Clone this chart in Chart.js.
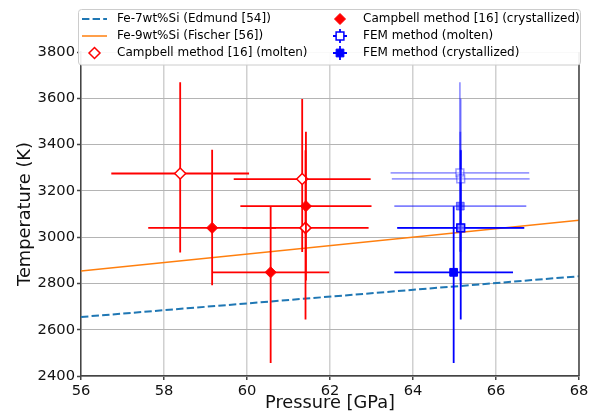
<!DOCTYPE html>
<html>
<head>
<meta charset="utf-8">
<script src="https://cdn.jsdelivr.net/npm/chart.js@4.4.0/dist/chart.umd.min.js"></script>
<style>
  html, body { margin: 0; padding: 0; background: #fff; }
  #wrap { width: 598px; height: 414px; }
</style>
</head>
<body>
<div id="wrap"><canvas id="meltChart" width="598" height="414"></canvas></div>
<script>
// Fe-Si melting temperature vs pressure

// --- reference melting curves ---
const curveP = [56, 68];
const edmundT = [2655, 2831];
const fischerT = [2854, 3073];

// --- Campbell method [16] ---
const campMoltenP = [58.39, 61.33, 61.41];
const campMoltenT = [3275, 3251, 3040];
const campMoltenErrP = [1.66, 1.65, 1.52];
const campMoltenErrUp = [394, 346, 336];
const campMoltenErrDown = [341, 315, 396];

const campCrystP = [59.16, 60.57, 61.42];
const campCrystT = [3040, 2848, 3134];
const campCrystErrP = [1.54, 1.41, 1.58];
const campCrystErrUp = [338, 286, 321];
const campCrystErrDown = [248, 392, 321];

// --- FEM method ---
const femMoltenP = [65.13, 65.15, 65.15];
const femMoltenT = [3278, 3252, 3040];
const femMoltenErrP = [1.67, 1.66, 1.53];
const femMoltenErrUp = [391, 346, 336];
const femMoltenErrDown = [341, 315, 396];

const femCrystP = [65.15, 64.98, 65.14];
const femCrystT = [3040, 2848, 3134];
const femCrystErrP = [1.53, 1.43, 1.59];
const femCrystErrUp = [338, 286, 321];
const femCrystErrDown = [248, 392, 321];

// per point opacity of the FEM markers
const femMoltenAlpha = [0.4, 0.4, 1];
const femCrystAlpha = [0.4, 1, 0.5];

// axis ticks
const pressureTicks = [56, 58, 60, 62, 64, 66, 68];
const tempTicks = [2400, 2600, 2800, 3000, 3200, 3400, 3600, 3800];

const FONT = 'DejaVu Sans';
const RED = '#ff0000';
const blue = a => 'rgba(0,0,255,' + a + ')';
const white = a => 'rgba(255,255,255,' + a + ')';

function pts(xs, ys) {
    return xs.map((x, i) => ({ x: x, y: ys[i] }));
}

// draws the error bars of a dataset just before its markers
const errorBarPlugin = {
    id: 'errorBars',
    beforeDatasetDraw(chart, args) {
        const ds = chart.data.datasets[args.index];
        if (!ds.errP) return;
        const xs = chart.scales.x, ys = chart.scales.y;
        const ctx = chart.ctx;
        ctx.save();
        ctx.lineWidth = 1.8;
        ds.data.forEach((p, i) => {
            const cx = xs.getPixelForValue(p.x);
            const cy = ys.getPixelForValue(p.y);
            ctx.strokeStyle = Array.isArray(ds.barColor) ? ds.barColor[i] : ds.barColor;
            ctx.beginPath();
            ctx.moveTo(xs.getPixelForValue(p.x - ds.errP[i]), cy);
            ctx.lineTo(xs.getPixelForValue(p.x + ds.errP[i]), cy);
            ctx.moveTo(cx, ys.getPixelForValue(p.y + ds.errUp[i]));
            ctx.lineTo(cx, ys.getPixelForValue(p.y - ds.errDown[i]));
            ctx.stroke();
        });
        ctx.restore();
    }
};

// matplotlib-like legend box laid over the top of the plot, plus right spine
const boxLegendPlugin = {
    id: 'boxLegend',
    afterDraw(chart) {
        const ctx = chart.ctx;
        const a = chart.chartArea;
        const dsets = chart.data.datasets;

        ctx.save();
        ctx.strokeStyle = '#444';
        ctx.lineWidth = 1.5;
        ctx.beginPath();
        ctx.moveTo(a.right, a.top);
        ctx.lineTo(a.right, a.bottom);
        ctx.stroke();

        ctx.fillStyle = 'rgba(255,255,255,0.92)';
        ctx.strokeStyle = '#cccccc';
        ctx.lineWidth = 1;
        ctx.beginPath();
        ctx.roundRect(78.5, 9.5, 502, 55.5, 3);
        ctx.fill();
        ctx.stroke();

        const rows = [19, 36, 53];
        const cols = [{ h0: 82, h1: 107, tx: 117 }, { h0: 328, h1: 352, tx: 363 }];
        const slots = [[0, 0], [0, 1], [0, 2], [1, 0], [1, 1], [1, 2]];

        ctx.font = '12px "' + FONT + '"';
        ctx.textBaseline = 'middle';
        dsets.forEach((ds, k) => {
            const col = cols[slots[k][0]];
            const y = rows[slots[k][1]];
            const mx = (col.h0 + col.h1) / 2;
            if (ds.showLine) {
                ctx.strokeStyle = ds.borderColor;
                ctx.lineWidth = ds.borderWidth;
                ctx.setLineDash(ds.borderDash || []);
                ctx.beginPath();
                ctx.moveTo(col.h0, y);
                ctx.lineTo(col.h1, y);
                ctx.stroke();
                ctx.setLineDash([]);
            } else {
                if (ds.pointStyle === 'rect') {
                    ctx.strokeStyle = blue(1);
                    ctx.lineWidth = 1.8;
                    ctx.beginPath();
                    ctx.moveTo(mx - 7, y); ctx.lineTo(mx + 7, y);
                    ctx.moveTo(mx, y - 7); ctx.lineTo(mx, y + 7);
                    ctx.stroke();
                }
                ctx.fillStyle = ds.legendFill;
                ctx.strokeStyle = ds.legendEdge;
                ctx.lineWidth = ds.pointBorderWidth;
                Chart.helpers.drawPoint(ctx, {
                    pointStyle: ds.pointStyle, radius: ds.pointRadius,
                    rotation: 0, borderWidth: ds.pointBorderWidth
                }, mx, y);
            }
            ctx.fillStyle = '#000';
            ctx.fillText(ds.label, col.tx, y);
        });
        ctx.restore();
    }
};

const ctx = document.getElementById('meltChart');
new Chart(ctx, {
    type: 'scatter',
    data: {
        datasets: [
            {
                label: 'Fe-7wt%Si (Edmund [54])',
                data: pts(curveP, edmundT),
                showLine: true,
                borderColor: '#1f77b4',
                borderWidth: 2,
                borderDash: [7.4, 3.2],
                pointRadius: 0,
                order: 6
            },
            {
                label: 'Fe-9wt%Si (Fischer [56])',
                data: pts(curveP, fischerT),
                showLine: true,
                borderColor: '#ff7f0e',
                borderWidth: 1.5,
                pointRadius: 0,
                order: 5
            },
            {
                label: 'Campbell method [16] (molten)',
                data: pts(campMoltenP, campMoltenT),
                errP: campMoltenErrP, errUp: campMoltenErrUp, errDown: campMoltenErrDown,
                barColor: RED,
                pointStyle: 'rectRot',
                pointRadius: 5.5,
                pointBorderWidth: 1.5,
                pointBackgroundColor: '#ffffff',
                pointBorderColor: RED,
                legendFill: '#ffffff', legendEdge: RED,
                order: 4
            },
            {
                label: 'Campbell method [16] (crystallized)',
                data: pts(campCrystP, campCrystT),
                errP: campCrystErrP, errUp: campCrystErrUp, errDown: campCrystErrDown,
                barColor: RED,
                pointStyle: 'rectRot',
                pointRadius: 5.5,
                pointBorderWidth: 1,
                pointBackgroundColor: RED,
                pointBorderColor: RED,
                legendFill: RED, legendEdge: RED,
                order: 3
            },
            {
                label: 'FEM method (molten)',
                data: pts(femMoltenP, femMoltenT),
                errP: femMoltenErrP, errUp: femMoltenErrUp, errDown: femMoltenErrDown,
                barColor: femMoltenAlpha.map(blue),
                pointStyle: 'rect',
                pointRadius: 5.5,
                pointBorderWidth: 1.5,
                pointBackgroundColor: femMoltenAlpha.map(white),
                pointBorderColor: femMoltenAlpha.map(blue),
                legendFill: '#ffffff', legendEdge: blue(1),
                order: 2
            },
            {
                label: 'FEM method (crystallized)',
                data: pts(femCrystP, femCrystT),
                errP: femCrystErrP, errUp: femCrystErrUp, errDown: femCrystErrDown,
                barColor: femCrystAlpha.map(blue),
                pointStyle: 'rect',
                pointRadius: 5.5,
                pointBorderWidth: 1,
                pointBackgroundColor: femCrystAlpha.map(blue),
                pointBorderColor: femCrystAlpha.map(blue),
                legendFill: blue(1), legendEdge: blue(1),
                order: 1
            }
        ]
    },
    options: {
        responsive: false,
        animation: false,
        events: [],
        layout: { padding: { top: 52, right: 19, left: 0, bottom: 0 } },
        scales: {
            x: {
                type: 'linear',
                min: 56, max: 68,
                afterBuildTicks: s => { s.ticks = pressureTicks.map(v => ({ value: v })); },
                afterFit: s => { s.height = 38; },
                ticks: {
                    autoSkip: false, maxRotation: 0, padding: 2,
                    color: '#111', font: { family: FONT, size: 14.7 },
                    callback: v => String(v)
                },
                grid: { color: '#d0d0d0', lineWidth: 1.5, tickLength: 4, tickColor: '#444', tickWidth: 1.5 },
                border: { color: '#444', width: 1.5 },
                title: {
                    display: true, text: 'Pressure [GPa]', color: '#111',
                    font: { family: FONT, size: 17.8 }, padding: { top: 0, bottom: 0 }
                }
            },
            y: {
                type: 'linear',
                min: 2400, max: 3800,
                afterBuildTicks: s => { s.ticks = tempTicks.map(v => ({ value: v })); },
                afterFit: s => { s.width = 81; },
                ticks: {
                    autoSkip: false, padding: 2,
                    color: '#111', font: { family: FONT, size: 14.7 },
                    callback: v => String(v)
                },
                grid: { color: '#b4b4b4', lineWidth: 1, tickLength: 4, tickColor: '#444', tickWidth: 1.5 },
                border: { color: '#444', width: 1.5 },
                title: {
                    display: true, text: 'Temperature (K)', color: '#111',
                    font: { family: FONT, size: 17.8 }, padding: { top: 15, bottom: 0 }
                }
            }
        },
        plugins: {
            legend: { display: false },
            tooltip: { enabled: false }
        }
    },
    plugins: [errorBarPlugin, boxLegendPlugin]
});
</script>
</body>
</html>
